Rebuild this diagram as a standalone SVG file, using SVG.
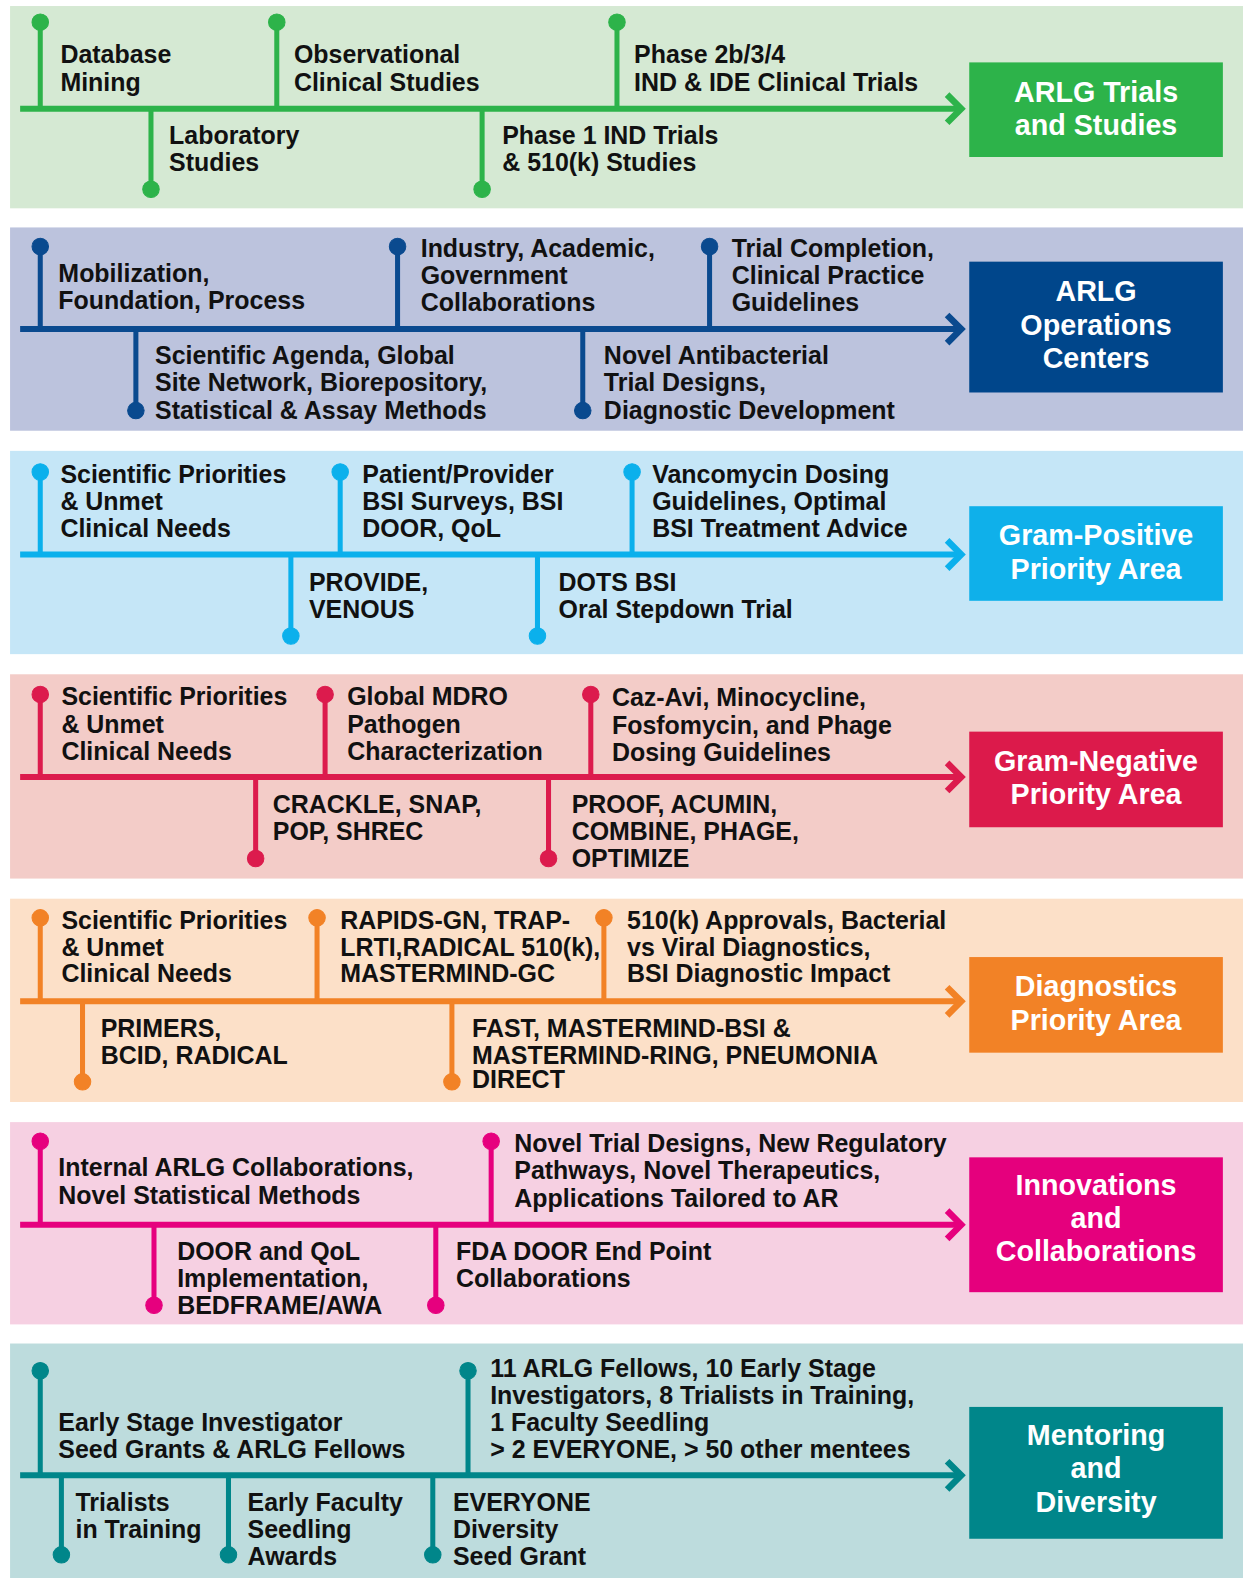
<svg xmlns="http://www.w3.org/2000/svg" width="1243" height="1578" viewBox="0 0 1243 1578">
<style>
.t{font-family:"Liberation Sans",Arial,sans-serif;font-weight:bold;font-size:24.8px;fill:#111}
.bt{font-family:"Liberation Sans",Arial,sans-serif;font-weight:bold;font-size:28.5px;fill:#fff;text-anchor:middle}
.ln{fill:none;stroke-width:6}
.st{fill:none;stroke-width:5}
.ar{fill:none;stroke-width:6.5;stroke-linecap:butt;stroke-linejoin:miter}
.c1{stroke:#2db34a;fill:#2db34a}.c2{stroke:#0a4a8f;fill:#0a4a8f}.c3{stroke:#0bb0ec;fill:#0bb0ec}
.c4{stroke:#dc1b4d;fill:#dc1b4d}.c5{stroke:#f28226;fill:#f28226}.c6{stroke:#e6007e;fill:#e6007e}.c7{stroke:#00868a;fill:#00868a}
</style>
<rect width="1243" height="1578" fill="#fff"/>
<g transform="scale(1.00648,1.00638)">
<g id="bands">
<rect x="10" y="6" width="1225" height="201" fill="#d5e9d3"/>
<rect x="10" y="226" width="1225" height="202" fill="#bcc3dd"/>
<rect x="10" y="448" width="1225" height="202" fill="#c5e6f7"/>
<rect x="10" y="670" width="1225" height="203" fill="#f3ccc8"/>
<rect x="10" y="893" width="1225" height="202" fill="#fce0c8"/>
<rect x="10" y="1115" width="1225" height="201" fill="#f6d0e2"/>
<rect x="10" y="1335" width="1225" height="233" fill="#bddcdd"/>
</g>
<g id="connectors">
<g class="c1">
<line class="ln" x1="20" y1="108" x2="952" y2="108"/>
<polyline class="ar" points="941,94 955,108 941,122"/>
<line class="st" x1="40" y1="22" x2="40" y2="108"/><circle cx="40" cy="22" r="8.2"/>
<line class="st" x1="150" y1="108" x2="150" y2="188"/><circle cx="150" cy="188" r="8.2"/>
<line class="st" x1="275" y1="22" x2="275" y2="108"/><circle cx="275" cy="22" r="8.2"/>
<line class="st" x1="479" y1="108" x2="479" y2="188"/><circle cx="479" cy="188" r="8.2"/>
<line class="st" x1="613" y1="22" x2="613" y2="108"/><circle cx="613" cy="22" r="8.2"/>
</g>
<g class="c2">
<line class="ln" x1="20" y1="327" x2="952" y2="327"/>
<polyline class="ar" points="941,313 955,327 941,341"/>
<line class="st" x1="40" y1="245" x2="40" y2="327"/><circle cx="40" cy="245" r="8.2"/>
<line class="st" x1="135" y1="327" x2="135" y2="408"/><circle cx="135" cy="408" r="8.2"/>
<line class="st" x1="395" y1="245" x2="395" y2="327"/><circle cx="395" cy="245" r="8.2"/>
<line class="st" x1="579" y1="327" x2="579" y2="408"/><circle cx="579" cy="408" r="8.2"/>
<line class="st" x1="705" y1="245" x2="705" y2="327"/><circle cx="705" cy="245" r="8.2"/>
</g>
<g class="c3">
<line class="ln" x1="20" y1="551" x2="952" y2="551"/>
<polyline class="ar" points="941,537 955,551 941,565"/>
<line class="st" x1="40" y1="469" x2="40" y2="551"/><circle cx="40" cy="469" r="8.2"/>
<line class="st" x1="289" y1="551" x2="289" y2="632"/><circle cx="289" cy="632" r="8.2"/>
<line class="st" x1="338" y1="469" x2="338" y2="551"/><circle cx="338" cy="469" r="8.2"/>
<line class="st" x1="534" y1="551" x2="534" y2="632"/><circle cx="534" cy="632" r="8.2"/>
<line class="st" x1="628" y1="469" x2="628" y2="551"/><circle cx="628" cy="469" r="8.2"/>
</g>
<g class="c4">
<line class="ln" x1="20" y1="772" x2="952" y2="772"/>
<polyline class="ar" points="941,758 955,772 941,786"/>
<line class="st" x1="40" y1="690" x2="40" y2="772"/><circle cx="40" cy="690" r="8.2"/>
<line class="st" x1="254" y1="772" x2="254" y2="853"/><circle cx="254" cy="853" r="8.2"/>
<line class="st" x1="323" y1="690" x2="323" y2="772"/><circle cx="323" cy="690" r="8.2"/>
<line class="st" x1="545" y1="772" x2="545" y2="853"/><circle cx="545" cy="853" r="8.2"/>
<line class="st" x1="587" y1="690" x2="587" y2="772"/><circle cx="587" cy="690" r="8.2"/>
</g>
<g class="c5">
<line class="ln" x1="20" y1="995" x2="952" y2="995"/>
<polyline class="ar" points="941,981 955,995 941,1009"/>
<line class="st" x1="40" y1="912" x2="40" y2="995"/><circle cx="40" cy="912" r="8.2"/>
<line class="st" x1="82" y1="995" x2="82" y2="1075"/><circle cx="82" cy="1075" r="8.2"/>
<line class="st" x1="315" y1="912" x2="315" y2="995"/><circle cx="315" cy="912" r="8.2"/>
<line class="st" x1="449" y1="995" x2="449" y2="1075"/><circle cx="449" cy="1075" r="8.2"/>
<line class="st" x1="600" y1="912" x2="600" y2="995"/><circle cx="600" cy="912" r="8.2"/>
</g>
<g class="c6">
<line class="ln" x1="20" y1="1217" x2="952" y2="1217"/>
<polyline class="ar" points="941,1203 955,1217 941,1231"/>
<line class="st" x1="40" y1="1134" x2="40" y2="1217"/><circle cx="40" cy="1134" r="8.2"/>
<line class="st" x1="153" y1="1217" x2="153" y2="1297"/><circle cx="153" cy="1297" r="8.2"/>
<line class="st" x1="433" y1="1217" x2="433" y2="1297"/><circle cx="433" cy="1297" r="8.2"/>
<line class="st" x1="488" y1="1134" x2="488" y2="1217"/><circle cx="488" cy="1134" r="8.2"/>
</g>
<g class="c7">
<line class="ln" x1="20" y1="1466" x2="952" y2="1466"/>
<polyline class="ar" points="941,1452 955,1466 941,1480"/>
<line class="st" x1="40" y1="1362" x2="40" y2="1466"/><circle cx="40" cy="1362" r="8.2"/>
<line class="st" x1="61" y1="1466" x2="61" y2="1545"/><circle cx="61" cy="1545" r="8.2"/>
<line class="st" x1="227" y1="1466" x2="227" y2="1545"/><circle cx="227" cy="1545" r="8.2"/>
<line class="st" x1="430" y1="1466" x2="430" y2="1545"/><circle cx="430" cy="1545" r="8.2"/>
<line class="st" x1="465" y1="1362" x2="465" y2="1466"/><circle cx="465" cy="1362" r="8.2"/>
</g>
</g>

<g id="n1a"><text class="t" x="60" y="63">Database</text><text class="t" x="60" y="90">Mining</text></g>
<g id="n1b"><text class="t" x="168" y="143">Laboratory</text><text class="t" x="168" y="170">Studies</text></g>
<g id="n1c"><text class="t" x="292" y="63">Observational</text><text class="t" x="292" y="90">Clinical Studies</text></g>
<g id="n1d"><text class="t" x="499" y="143">Phase 1 IND Trials</text><text class="t" x="499" y="170">&amp; 510(k) Studies</text></g>
<g id="n1e"><text class="t" x="630" y="63">Phase 2b/3/4</text><text class="t" x="630" y="90">IND &amp; IDE Clinical Trials</text></g>
<g id="box1"><rect x="963" y="62" width="252" height="94" fill="#2db34a"/><text class="bt" x="1089" y="101">ARLG Trials</text><text class="bt" x="1089" y="134">and Studies</text></g>

<g id="n2a"><text class="t" x="58" y="280">Mobilization,</text><text class="t" x="58" y="307">Foundation, Process</text></g>
<g id="n2b"><text class="t" x="154" y="362">Scientific Agenda, Global</text><text class="t" x="154" y="389">Site Network, Biorepository,</text><text class="t" x="154" y="416">Statistical &amp; Assay Methods</text></g>
<g id="n2c"><text class="t" x="418" y="255">Industry, Academic,</text><text class="t" x="418" y="282">Government</text><text class="t" x="418" y="309">Collaborations</text></g>
<g id="n2d"><text class="t" x="600" y="362">Novel Antibacterial</text><text class="t" x="600" y="389">Trial Designs,</text><text class="t" x="600" y="416">Diagnostic Development</text></g>
<g id="n2e"><text class="t" x="727" y="255">Trial Completion,</text><text class="t" x="727" y="282">Clinical Practice</text><text class="t" x="727" y="309">Guidelines</text></g>
<g id="box2"><rect x="963" y="260" width="252" height="130" fill="#00468b"/><text class="bt" x="1089" y="299">ARLG</text><text class="bt" x="1089" y="333">Operations</text><text class="bt" x="1089" y="366">Centers</text></g>

<g id="n3a"><text class="t" x="60" y="480">Scientific Priorities</text><text class="t" x="60" y="507">&amp; Unmet</text><text class="t" x="60" y="534">Clinical Needs</text></g>
<g id="n3b"><text class="t" x="307" y="587">PROVIDE,</text><text class="t" x="307" y="614">VENOUS</text></g>
<g id="n3c"><text class="t" x="360" y="480">Patient/Provider</text><text class="t" x="360" y="507">BSI Surveys, BSI</text><text class="t" x="360" y="534">DOOR, QoL</text></g>
<g id="n3d"><text class="t" x="555" y="587">DOTS BSI</text><text class="t" x="555" y="614">Oral Stepdown Trial</text></g>
<g id="n3e"><text class="t" x="648" y="480">Vancomycin Dosing</text><text class="t" x="648" y="507">Guidelines, Optimal</text><text class="t" x="648" y="534">BSI Treatment Advice</text></g>
<g id="box3"><rect x="963" y="503" width="252" height="94" fill="#0fb0ea"/><text class="bt" x="1089" y="542">Gram-Positive</text><text class="bt" x="1089" y="575">Priority Area</text></g>

<g id="n4a"><text class="t" x="61" y="701">Scientific Priorities</text><text class="t" x="61" y="728">&amp; Unmet</text><text class="t" x="61" y="755">Clinical Needs</text></g>
<g id="n4b"><text class="t" x="271" y="808">CRACKLE, SNAP,</text><text class="t" x="271" y="835">POP, SHREC</text></g>
<g id="n4c"><text class="t" x="345" y="701">Global MDRO</text><text class="t" x="345" y="728">Pathogen</text><text class="t" x="345" y="755">Characterization</text></g>
<g id="n4d"><text class="t" x="568" y="808">PROOF, ACUMIN,</text><text class="t" x="568" y="835">COMBINE, PHAGE,</text><text class="t" x="568" y="862">OPTIMIZE</text></g>
<g id="n4e"><text class="t" x="608" y="702">Caz-Avi, Minocycline,</text><text class="t" x="608" y="729">Fosfomycin, and Phage</text><text class="t" x="608" y="756">Dosing Guidelines</text></g>
<g id="box4"><rect x="963" y="727" width="252" height="95" fill="#dc1a4b"/><text class="bt" x="1089" y="766">Gram-Negative</text><text class="bt" x="1089" y="799">Priority Area</text></g>

<g id="n5a"><text class="t" x="61" y="923">Scientific Priorities</text><text class="t" x="61" y="950">&amp; Unmet</text><text class="t" x="61" y="976">Clinical Needs</text></g>
<g id="n5b"><text class="t" x="100" y="1030">PRIMERS,</text><text class="t" x="100" y="1057">BCID, RADICAL</text></g>
<g id="n5c"><text class="t" x="338" y="923">RAPIDS-GN, TRAP-</text><text class="t" x="338" y="950">LRTI,RADICAL 510(k),</text><text class="t" x="338" y="976">MASTERMIND-GC</text></g>
<g id="n5d"><text class="t" x="469" y="1030">FAST, MASTERMIND-BSI &amp;</text><text class="t" x="469" y="1057">MASTERMIND-RING, PNEUMONIA</text><text class="t" x="469" y="1081">DIRECT</text></g>
<g id="n5e"><text class="t" x="623" y="923">510(k) Approvals, Bacterial</text><text class="t" x="623" y="950">vs Viral Diagnostics,</text><text class="t" x="623" y="976">BSI Diagnostic Impact</text></g>
<g id="box5"><rect x="963" y="951" width="252" height="95" fill="#f28226"/><text class="bt" x="1089" y="990">Diagnostics</text><text class="bt" x="1089" y="1023">Priority Area</text></g>

<g id="n6a"><text class="t" x="58" y="1169">Internal ARLG Collaborations,</text><text class="t" x="58" y="1196">Novel Statistical Methods</text></g>
<g id="n6b"><text class="t" x="176" y="1252">DOOR and QoL</text><text class="t" x="176" y="1279">Implementation,</text><text class="t" x="176" y="1306">BEDFRAME/AWA</text></g>
<g id="n6c"><text class="t" x="453" y="1252">FDA DOOR End Point</text><text class="t" x="453" y="1279">Collaborations</text></g>
<g id="n6d"><text class="t" x="511" y="1145">Novel Trial Designs, New Regulatory</text><text class="t" x="511" y="1172">Pathways, Novel Therapeutics,</text><text class="t" x="511" y="1199">Applications Tailored to AR</text></g>
<g id="box6"><rect x="963" y="1150" width="252" height="134" fill="#e5007d"/><text class="bt" x="1089" y="1187">Innovations</text><text class="bt" x="1089" y="1220">and</text><text class="bt" x="1089" y="1253">Collaborations</text></g>

<g id="n7a"><text class="t" x="58" y="1422">Early Stage Investigator</text><text class="t" x="58" y="1449">Seed Grants &amp; ARLG Fellows</text></g>
<g id="n7b"><text class="t" x="75" y="1501">Trialists</text><text class="t" x="75" y="1528">in Training</text></g>
<g id="n7c"><text class="t" x="246" y="1501">Early Faculty</text><text class="t" x="246" y="1528">Seedling</text><text class="t" x="246" y="1555">Awards</text></g>
<g id="n7d"><text class="t" x="450" y="1501">EVERYONE</text><text class="t" x="450" y="1528">Diversity</text><text class="t" x="450" y="1555">Seed Grant</text></g>
<g id="n7e"><text class="t" x="487" y="1368">11 ARLG Fellows, 10 Early Stage</text><text class="t" x="487" y="1395">Investigators, 8 Trialists in Training,</text><text class="t" x="487" y="1422">1 Faculty Seedling</text><text class="t" x="487" y="1449">&gt; 2 EVERYONE, &gt; 50 other mentees</text></g>
<g id="box7"><rect x="963" y="1398" width="252" height="131" fill="#00868a"/><text class="bt" x="1089" y="1436">Mentoring</text><text class="bt" x="1089" y="1469">and</text><text class="bt" x="1089" y="1502">Diversity</text></g>
</g>
</svg>
